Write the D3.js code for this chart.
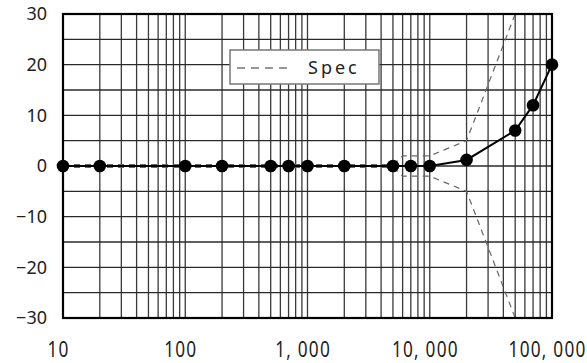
<!DOCTYPE html>
<html>
<head>
<meta charset="utf-8">
<script src="https://cdn.jsdelivr.net/npm/d3@7"></script>
<style>
  body { margin: 0; background: #fff; }
  text { font-family: "Noto Sans", "Open Sans", sans-serif; fill: #222; }
</style>
</head>
<body>
<div id="chart"></div>
<script>
const freqs = [10, 20, 100, 200, 500, 700, 1000, 2000, 5000, 7000, 10000, 20000, 50000, 70000, 100000];
const response = [0, 0, 0, 0, 0, 0, 0, 0, 0, 0, 0, 1.2, 7, 12, 20];

const specFreqs = [10, 5000, 6000, 10000, 20000, 50000];
const specUpper = [0.3, 0.3, 2, 2, 5, 30];
const specLower = [-0.3, -0.3, -2, -2, -5, -30];

const xTickVals = [10, 100, 1000, 10000, 100000];
const xTickLabels = ["10", "100", "1, 000", "10, 000", "100, 000"];
const yTickVals = [-30, -20, -10, 0, 10, 20, 30];

const width = 587, height = 363;
const margin = {top: 14, right: 35, bottom: 45, left: 63};

const svg = d3.select("#chart")
  .append("svg")
  .attr("width", width)
  .attr("height", height);

const x = d3.scaleLog()
  .domain([10, 100000])
  .range([margin.left, width - margin.right]);

const y = d3.scaleLinear()
  .domain([-30, 30])
  .range([height - margin.bottom, margin.top]);

// grid: log minor lines and every 5 units horizontally
const minor = [];
for (let d = 10; d < 100000; d *= 10) {
  for (let k = 1; k <= 9; k++) minor.push(d * k);
}
minor.push(100000);

svg.append("g")
  .selectAll("line")
  .data(minor)
  .enter()
  .append("line")
  .attr("x1", d => x(d)).attr("x2", d => x(d))
  .attr("y1", y(30)).attr("y2", y(-30))
  .attr("stroke", "#3a3a3a")
  .attr("stroke-width", 1.3);

svg.append("g")
  .selectAll("line")
  .data(d3.range(-30, 31, 5))
  .enter()
  .append("line")
  .attr("x1", x(10)).attr("x2", x(100000))
  .attr("y1", d => y(d)).attr("y2", d => y(d))
  .attr("stroke", "#2a2a2a")
  .attr("stroke-width", 1.3);

// legend box
const lg = svg.append("g");
lg.append("rect")
  .attr("x", 230).attr("y", 50)
  .attr("width", 149).attr("height", 34)
  .attr("fill", "#fff")
  .attr("stroke", "#777")
  .attr("stroke-width", 1.5);
lg.append("line")
  .attr("x1", 237).attr("x2", 292)
  .attr("y1", 68).attr("y2", 68)
  .attr("stroke", "#333")
  .attr("stroke-width", 1.2)
  .attr("stroke-dasharray", "8,6");
lg.append("text")
  .attr("x", 308).attr("y", 74)
  .attr("font-size", 18)
  .attr("letter-spacing", 3)
  .text("Spec");

// spec lines
const specLine = d3.line()
  .x(d => x(d[0]))
  .y(d => y(d[1]));

[specUpper, specLower].forEach(vals => {
  svg.append("path")
    .datum(specFreqs.map((f, i) => [f, vals[i]]))
    .attr("d", specLine)
    .attr("fill", "none")
    .attr("stroke", "#666")
    .attr("stroke-width", 1.2)
    .attr("stroke-dasharray", "6,5");
});

// plot border
svg.append("rect")
  .attr("x", x(10)).attr("y", y(30))
  .attr("width", x(100000) - x(10))
  .attr("height", y(-30) - y(30))
  .attr("fill", "none")
  .attr("stroke", "#000")
  .attr("stroke-width", 2.2);

// measured response
const pts = freqs.map((f, i) => [f, response[i]]);
svg.append("path")
  .datum(pts)
  .attr("d", specLine)
  .attr("fill", "none")
  .attr("stroke", "#000")
  .attr("stroke-width", 2);

svg.selectAll("circle")
  .data(pts)
  .enter()
  .append("circle")
  .attr("cx", d => x(d[0]))
  .attr("cy", d => y(d[1]))
  .attr("r", 6.3)
  .attr("fill", "#000");

// axes labels
const xAxis = d3.axisBottom(x)
  .tickValues(xTickVals)
  .tickFormat((d, i) => xTickLabels[i])
  .tickSize(0)
  .tickPadding(24);
const gx = svg.append("g")
  .attr("transform", `translate(0,${height - margin.bottom})`)
  .call(xAxis);
gx.select(".domain").remove();
gx.selectAll("text")
  .attr("font-size", 21)
  .attr("letter-spacing", 1.5)
  .attr("dx", -6)
  .attr("transform", "scale(0.82,1)")
  .attr("fill", "#222");

const yAxis = d3.axisLeft(y)
  .tickValues(yTickVals)
  .tickFormat(d => d < 0 ? "\u2212" + Math.abs(d) : d)
  .tickSize(0)
  .tickPadding(16);
const gy = svg.append("g")
  .attr("transform", `translate(${margin.left},0)`)
  .call(yAxis);
gy.select(".domain").remove();
gy.selectAll("text")
  .attr("font-size", 18)
  .attr("fill", "#222");
</script>
</body>
</html>
